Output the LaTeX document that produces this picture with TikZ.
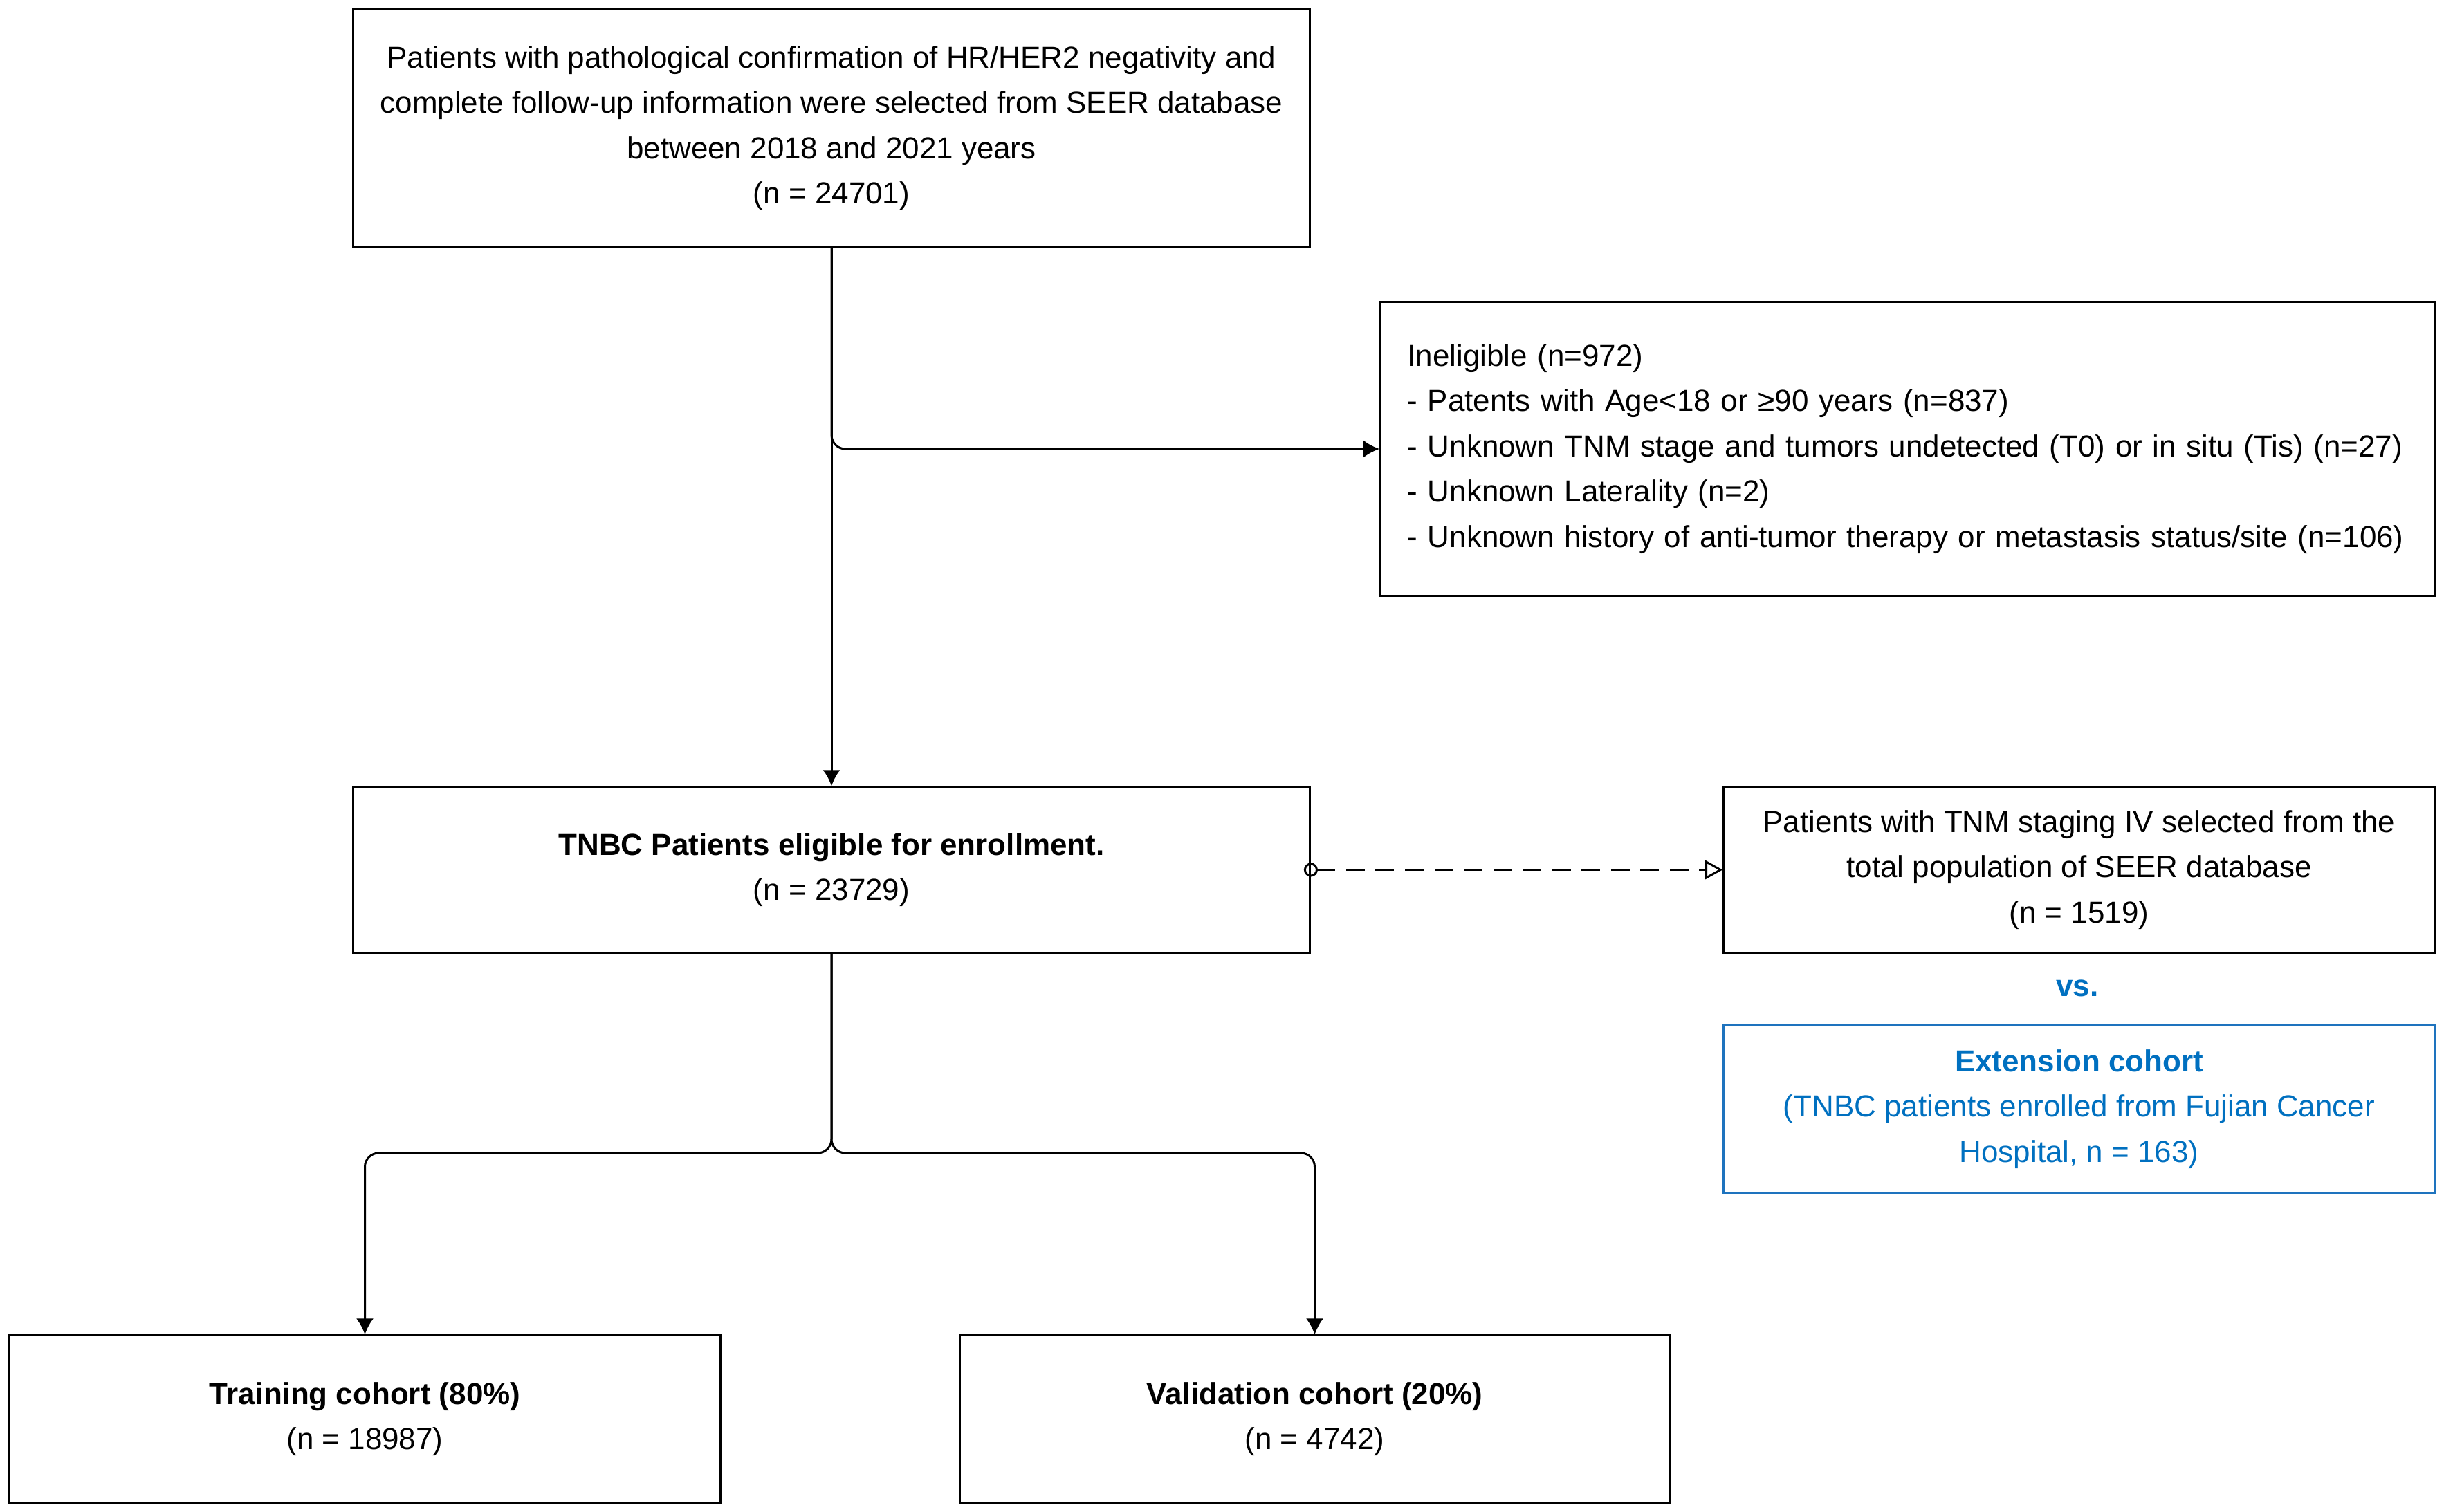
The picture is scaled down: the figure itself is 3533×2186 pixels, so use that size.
\documentclass[tikz,border=0pt]{standalone}
\usepackage{fontspec}
\setmainfont{Liberation Sans}
\usetikzlibrary{arrows.meta,calc}
\definecolor{myblue}{RGB}{0,112,192}
\definecolor{boxblue}{RGB}{30,115,190}
\tikzset{
  box/.style={draw=black, line width=0.85pt, inner sep=0pt, align=center, anchor=center,
    font=\fontsize{12.5}{18.6}\selectfont},
  bluebox/.style={box, draw=boxblue, text=myblue},
  conn/.style={line width=0.85pt, draw=black},
  tip/.style={-{Latex[length=0.23cm,width=0.25cm]}},
}
\begin{document}
\begin{tikzpicture}[x=0.01cm,y=-0.01cm]
\useasboundingbox[fill=white] (0,0) rectangle (3533,2186);

\node[box, minimum width=13.82cm, minimum height=3.42cm] (top) at (1202,185)
  {Patients with pathological confirmation of HR/HER2 negativity and\\
   complete follow-up information were selected from SEER database\\
   between 2018 and 2021 years\\
   (n = 24701)};

\node[box, minimum width=15.23cm, minimum height=4.24cm, align=left, text width=14.45cm, inner xsep=0.39cm] (inel) at (2757.5,649)
  {Ineligible (n=972)\\
   - Patents with Age<18 or ≥90 years (n=837)\\
   - Unknown TNM stage and tumors undetected (T0) or in situ (Tis) (n=27)\\
   - Unknown Laterality (n=2)\\
   - Unknown history of anti-tumor therapy or metastasis status/site (n=106)};

\node[box, minimum width=13.82cm, minimum height=2.39cm] (tnbc) at (1202,1257.5)
  {\textbf{TNBC Patients eligible for enrollment.}\\(n = 23729)};

\node[box, minimum width=10.27cm, minimum height=2.39cm] (tnm) at (3005.5,1257.5)
  {Patients with TNM staging IV selected from the\\
   total population of SEER database\\
   (n = 1519)};

\node[font=\fontsize{12.5}{18.6}\selectfont\bfseries, text=myblue, inner sep=0pt] (vs) at (3003,1429) {vs.};

\node[bluebox, minimum width=10.27cm, minimum height=2.41cm] (ext) at (3005.5,1603.5)
  {\textbf{Extension cohort}\\
   (TNBC patients enrolled from Fujian Cancer\\
   Hospital, n = 163)};

\node[box, minimum width=10.27cm, minimum height=2.41cm] (train) at (527.5,2051.5)
  {\textbf{Training cohort (80\%)}\\(n = 18987)};

\node[box, minimum width=10.25cm, minimum height=2.41cm] (valid) at (1900.5,2051.5)
  {\textbf{Validation cohort (20\%)}\\(n = 4742)};

% connectors
\draw[conn, tip] (top.south) -- (tnbc.north);
\draw[conn, tip, rounded corners=0.2cm] (top.south) |- (inel.west);

\draw[conn, dash pattern=on 0.27cm off 0.155cm, shorten <=-0.1cm,
  {Circle[open,length=0.2cm,width=0.2cm]}-{Triangle[open,length=0.25cm,width=0.27cm]}]
  (tnbc.east) -- (tnm.west);

\coordinate (split) at (1202,1667);
\draw[conn, tip, rounded corners=0.2cm] (tnbc.south) -- (split) -| (train.north);
\draw[conn, tip, rounded corners=0.2cm] (tnbc.south) -- (split) -| (valid.north);
\end{tikzpicture}
\end{document}
